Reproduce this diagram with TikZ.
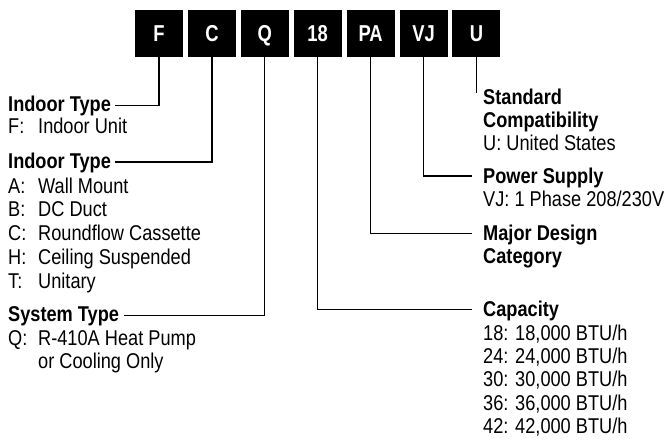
\documentclass[tikz,border=0pt]{standalone}
\usepackage{fontspec}
\setmainfont{Liberation Sans}[FakeStretch=0.85]
\newfontfamily\codefont{Liberation Sans}[FakeStretch=0.8]
\usetikzlibrary{calc}
\newcommand\keycol[1]{\makebox[30pt][l]{#1}}
\begin{document}
\begin{tikzpicture}[x=1pt,y=-1pt,
  codebox/.style={fill=black, text=white, minimum width=48pt, minimum height=47pt, inner sep=0pt, text height=16.5pt, text depth=0pt, font=\codefont\fontsize{23}{24}\selectfont\bfseries},
  hdr/.style={anchor=base west, inner sep=0pt, font=\fontsize{21.4}{22}\selectfont\bfseries},
  item/.style={anchor=base west, inner sep=0pt, font=\fontsize{21.4}{22}\selectfont},
  conn/.style={line width=1.3pt}]
\useasboundingbox[fill=white] (0,0) rectangle (670,440);

% code boxes
\node[codebox] (bF)  at (159.0,33) {F};
\node[codebox] (bC)  at (211.9,33) {C};
\node[codebox] (bQ)  at (264.8,33) {Q};
\node[codebox] (b18) at (317.7,33) {18};
\node[codebox] (bPA) at (370.6,33) {PA};
\node[codebox] (bVJ) at (423.5,33) {VJ};
\node[codebox] (bU)  at (476.4,33) {U};

% left labels
\node[hdr]  (h1) at (8,111)   {Indoor Type};
\node[item] (f1) at (8,133.5) {\keycol{F:}Indoor Unit};
\node[hdr]  (h2) at (8,168)   {Indoor Type};
\node[item] (c1) at (8,193)   {\keycol{A:}Wall Mount};
\node[item] (c2) at (8,216.5) {\keycol{B:}DC Duct};
\node[item] (c3) at (8,240)   {\keycol{C:}Roundflow Cassette};
\node[item] (c4) at (8,264)   {\keycol{H:}Ceiling Suspended};
\node[item] (c5) at (8,288)   {\keycol{T:}Unitary};
\node[hdr]  (h3) at (8,321)   {System Type};
\node[item] (q1) at (8,345)   {\keycol{Q:}R-410A Heat Pump};
\node[item] (q2) at (8,368)   {\keycol{}or Cooling Only};

% right labels
\node[hdr]  (std)  at (483,104)   {Standard};
\node[hdr]  (cmp)  at (483,127)   {Compatibility};
\node[item] (us)   at (483,150)   {U: United States};
\node[hdr]  (pow)  at (483,183)   {Power Supply};
\node[item] (vj)   at (483,206.5) {VJ: 1 Phase 208/230V};
\node[hdr]  (maj)  at (483,240.5) {Major Design};
\node[hdr]  (cat)  at (483,263)   {Category};
\node[hdr]  (cap)  at (483,316.5) {Capacity};
\node[item] (k18)  at (483,340)   {18: 18,000 BTU/h};
\node[item] (k24)  at (483,363.3) {24: 24,000 BTU/h};
\node[item] (k30)  at (483,386.7) {30: 30,000 BTU/h};
\node[item] (k36)  at (483,410)   {36: 36,000 BTU/h};
\node[item] (k42)  at (483,433.3) {42: 42,000 BTU/h};

% connector ends
\coordinate (eF)  at ($(h1.base east)+(4,-5.5)$);
\coordinate (eC)  at ($(h2.base east)+(4,-6)$);
\coordinate (eQ)  at ($(h3.base east)+(5,-5.5)$);
\coordinate (e18) at ($(cap.base west)+(-11,-7.3)$);
\coordinate (ePA) at ($(maj.base west)+(-11,-7.3)$);
\coordinate (eVJ) at ($(pow.base west)+(-11,-7)$);
\coordinate (eU)  at ($(std.base west)+(0,-11)$);

% connectors
\draw[conn] (bF.south)  |- (eF);
\draw[conn] (bC.south)  |- (eC);
\draw[conn] (bQ.south)  |- (eQ);
\draw[conn] (b18.south) |- (e18);
\draw[conn] (bPA.south) |- (ePA);
\draw[conn] (bVJ.south) |- (eVJ);
\draw[conn] (bU.south)  -- (bU.south |- eU);
\end{tikzpicture}
\end{document}
